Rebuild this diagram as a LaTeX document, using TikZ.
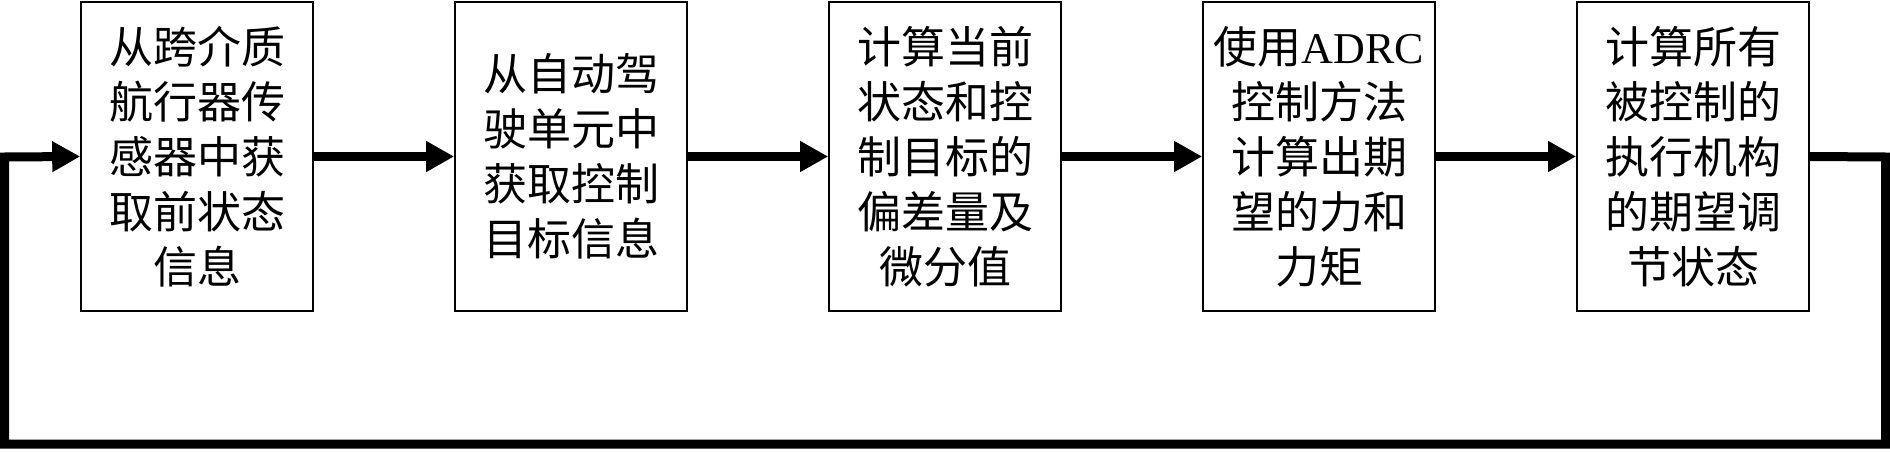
\documentclass[tikz,border=0pt]{standalone}
\usepackage{fontspec}
\setmainfont{Liberation Serif}
\newfontfamily\cjk{Noto Sans CJK SC}
\usetikzlibrary{arrows.meta}
\begin{document}
\begin{tikzpicture}[x=1pt,y=1pt,
  box/.style={draw=black, line width=1.6pt, minimum width=232pt, minimum height=309pt,
    inner sep=0pt, align=center, font=\fontsize{44}{55}\selectfont\cjk},
  conn/.style={line width=9pt, -{Triangle[length=28pt,width=29pt]}},
  fb/.style={line width=9pt}]
\useasboundingbox (0,0) rectangle (1890,451);
\node[box] (b1) at (197,294.5) {从跨介质\\航行器传\\感器中获\\取前状态\\信息};
\node[box] (b2) at (571,294.5) {从自动驾\\驶单元中\\获取控制\\目标信息};
\node[box] (b3) at (945,294.5) {计算当前\\状态和控\\制目标的\\偏差量及\\微分值};
\node[box] (b4) at (1319,294.5) {使用{\rmfamily ADRC}\\控制方法\\计算出期\\望的力和\\力矩};
\node[box] (b5) at (1693,294.5) {计算所有\\被控制的\\执行机构\\的期望调\\节状态};
\coordinate (r1) at (1885.5,294);
\coordinate (r2) at (1885.5,7);
\coordinate (l2) at (4.5,7);
\coordinate (l1) at (4.5,294);
\draw[conn] (b1.east) -- (b2.west);
\draw[conn] (b2.east) -- (b3.west);
\draw[conn] (b3.east) -- (b4.west);
\draw[conn] (b4.east) -- (b5.west);
\draw[conn, line join=miter] (b5.east) -- (r1) -- (r2) -- (l2) -- (l1) -- (b1.west);
\end{tikzpicture}
\end{document}
